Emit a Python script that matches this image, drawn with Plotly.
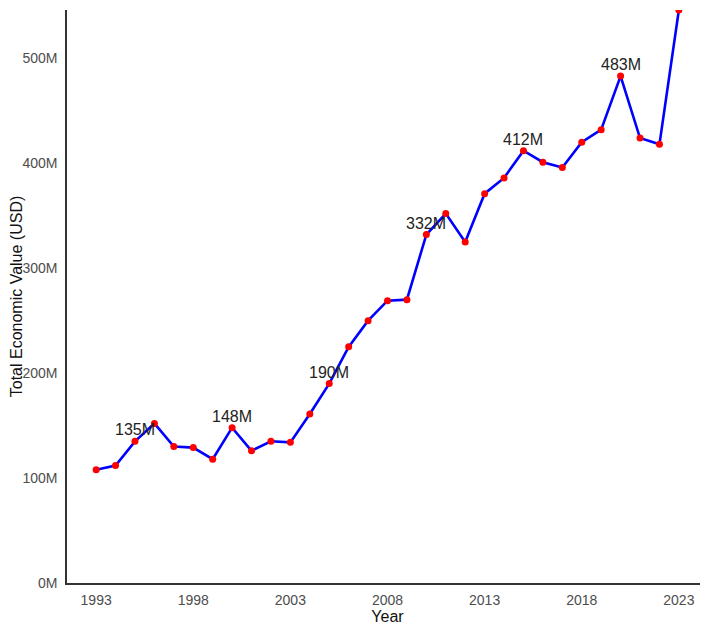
import plotly.graph_objects as go

years = list(range(1993, 2024))
values_m = [108, 112, 135, 152, 130, 129, 118, 148, 126, 135, 134, 161, 190, 225,
            250, 269, 270, 332, 352, 325, 371, 386, 412, 401, 396, 420, 432, 483,
            424, 418, 546]
label_years = [1995, 2000, 2005, 2010, 2015, 2020]
y_ticks_m = [0, 100, 200, 300, 400, 500]
x_ticks = [1993, 1998, 2003, 2008, 2013, 2018, 2023]

values = [v * 1e6 for v in values_m]

FONT = "Liberation Sans, Arial, sans-serif"

fig = go.Figure()
fig.add_trace(go.Scatter(
    x=years, y=values, mode="lines+markers",
    line=dict(color="#0000ff", width=2.6),
    marker=dict(color="#ff0000", size=7),
    hoverinfo="x+y", showlegend=False,
))

for yr, v in zip(years, values):
    if yr in label_years:
        fig.add_annotation(
            x=yr, y=v, text=f"{round(v/1e6)}M", showarrow=False,
            yanchor="bottom", xanchor="center", yshift=1,
            font=dict(family=FONT, size=16, color="#222222"),
        )

# page has an 8px body margin, so the figure is sized to the visible area
fig.update_layout(
    width=700, height=619,
    margin=dict(l=59, r=0, t=2, b=44, autoexpand=False),
    plot_bgcolor="white", paper_bgcolor="white",
    font=dict(family=FONT),
)
fig.update_xaxes(
    range=[1991.5, 2024.5],
    tickvals=x_ticks, ticktext=[str(t) for t in x_ticks],
    showgrid=False, zeroline=False, showline=True,
    linecolor="#333333", linewidth=1.5, ticks="",
    ticklabelstandoff=3,
    tickfont=dict(family=FONT, size=14, color="#4d4d4d"),
    title=dict(text="Year", standoff=2, font=dict(family=FONT, size=16, color="#111111")),
)
fig.update_yaxes(
    range=[0, values[-1]],
    tickvals=[t * 1e6 for t in y_ticks_m], ticktext=[f"{t}M" for t in y_ticks_m],
    showgrid=False, zeroline=False, showline=True,
    linecolor="#333333", linewidth=1.5, ticks="",
    ticklabelstandoff=5,
    tickfont=dict(family=FONT, size=14, color="#4d4d4d"),
    title=dict(text="Total Economic Value (USD)", standoff=3,
               font=dict(family=FONT, size=16, color="#111111")),
)

fig.write_html("out.html")
